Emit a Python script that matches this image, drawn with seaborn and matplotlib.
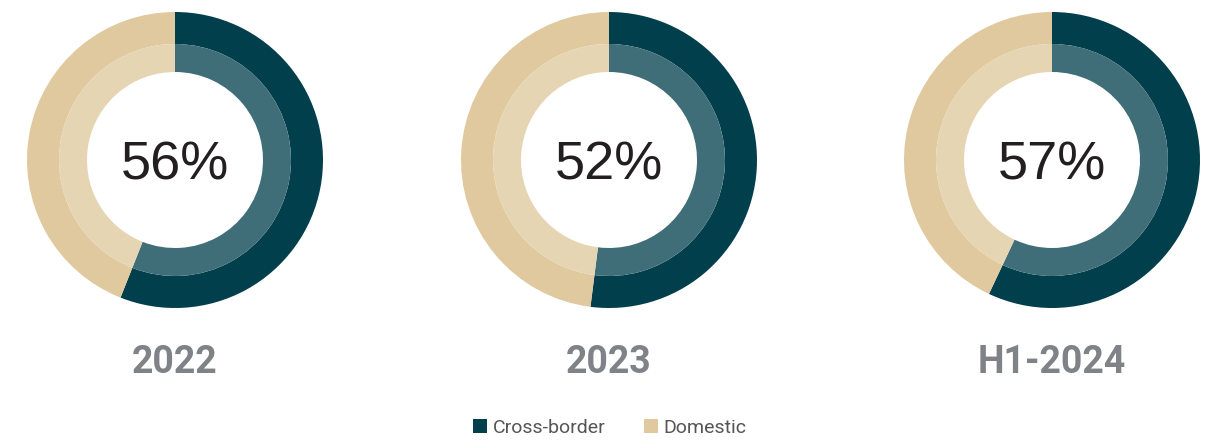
import matplotlib
matplotlib.use("Agg")
import matplotlib.pyplot as plt
from matplotlib.patches import Patch
import seaborn as sns

sns.set_theme(style="white")
plt.rcParams['font.family'] = ['Roboto', 'DejaVu Sans']

periods = ["2022", "2023", "H1-2024"]
cross_border = [56, 52, 57]
domestic = [44, 48, 43]
series_names = ["Cross-border", "Domestic"]

outer_colors = ["#023f4c", "#e0c99f"]
inner_colors = ["#3f6e78", "#e6d5b3"]

W, H = 1213, 441
fig = plt.figure(figsize=(W / 100, H / 100), dpi=100)
fig.patch.set_facecolor("white")

centers_x = [175, 609, 1052]
center_y = 160
R = 148

for i, (p, cb, dm) in enumerate(zip(periods, cross_border, domestic)):
    cx = centers_x[i]
    ax = fig.add_axes([(cx - R) / W, (H - center_y - R) / H, 2 * R / W, 2 * R / H])
    vals = [cb, dm]
    ax.pie(vals, radius=1.0, colors=outer_colors, startangle=90, counterclock=False,
           wedgeprops=dict(width=1 - 116 / 148, linewidth=0))
    ax.pie(vals, radius=116 / 148, colors=inner_colors, startangle=90, counterclock=False,
           wedgeprops=dict(width=(116 - 88) / 148, linewidth=0))
    ax.set_xlim(-1, 1)
    ax.set_ylim(-1, 1)
    ax.set_aspect("equal")
    ax.axis("off")
    ax.text(0, -20 / R, f"{cb}%", ha="center", va="baseline", fontsize=39,
            family=["Liberation Sans", "DejaVu Sans"], color="#231f20")
    fig.text(cx / W, 1 - 373 / H, p, ha="center", va="baseline", fontsize=27,
             fontweight="bold", color="#7f8387")

handles = [Patch(facecolor=c, edgecolor="none") for c in outer_colors]
leg = fig.legend(handles, series_names, loc="center", bbox_to_anchor=(610 / W, 1 - 428 / H),
                 ncol=2, frameon=False, fontsize=14, handlelength=0.7, handleheight=0.7,
                 handletextpad=0.3, columnspacing=2.0)
for t in leg.get_texts():
    t.set_color("#555555")

fig.savefig("out.png", dpi=100, facecolor="white")
